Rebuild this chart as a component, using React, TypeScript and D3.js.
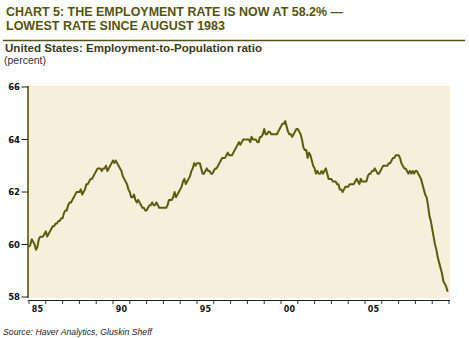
import React from "react";
import * as d3 from "d3";

// Monthly employment-to-population ratio, Jan 1985 .. Dec 2009 (one row per year)
const startYear = 1985;
const values: number[][] = [
  [59.9, 60.0, 60.2, 60.1, 60.0, 59.8, 59.9, 60.2, 60.3, 60.3, 60.3, 60.4],
  [60.5, 60.3, 60.4, 60.5, 60.6, 60.7, 60.7, 60.8, 60.8, 60.9, 60.9, 61.0],
  [61.0, 61.2, 61.3, 61.3, 61.5, 61.6, 61.6, 61.7, 61.8, 61.9, 62.0, 62.0],
  [62.0, 62.1, 61.9, 62.0, 62.1, 62.3, 62.3, 62.4, 62.5, 62.5, 62.6, 62.7],
  [62.8, 62.9, 62.9, 62.9, 62.8, 62.9, 62.9, 63.0, 62.8, 62.9, 63.0, 63.1],
  [63.2, 63.1, 63.2, 63.1, 63.0, 62.9, 62.8, 62.6, 62.5, 62.4, 62.3, 62.1],
  [62.0, 61.8, 61.8, 61.9, 61.7, 61.6, 61.7, 61.6, 61.5, 61.4, 61.4, 61.3],
  [61.3, 61.4, 61.5, 61.5, 61.6, 61.5, 61.5, 61.6, 61.5, 61.4, 61.4, 61.4],
  [61.4, 61.4, 61.4, 61.5, 61.7, 61.7, 61.7, 61.8, 62.0, 61.8, 61.9, 62.0],
  [62.1, 62.2, 62.4, 62.5, 62.3, 62.4, 62.5, 62.6, 62.8, 62.9, 63.1, 63.0],
  [63.1, 63.1, 63.1, 62.9, 62.7, 62.7, 62.8, 62.9, 62.8, 62.8, 62.7, 62.7],
  [62.8, 62.9, 62.9, 63.0, 63.1, 63.2, 63.3, 63.3, 63.3, 63.4, 63.5, 63.4],
  [63.4, 63.4, 63.5, 63.6, 63.7, 63.8, 63.9, 63.8, 63.9, 64.0, 64.0, 64.0],
  [64.0, 64.0, 63.9, 64.1, 64.0, 64.0, 64.0, 63.9, 63.9, 64.1, 64.1, 64.2],
  [64.4, 64.2, 64.2, 64.3, 64.3, 64.2, 64.2, 64.2, 64.2, 64.2, 64.3, 64.4],
  [64.5, 64.6, 64.6, 64.7, 64.5, 64.3, 64.2, 64.2, 64.1, 64.2, 64.3, 64.4],
  [64.4, 64.3, 64.2, 64.0, 63.7, 63.6, 63.6, 63.3, 63.5, 63.4, 63.2, 63.0],
  [62.9, 62.7, 62.8, 62.7, 62.7, 62.8, 62.7, 62.8, 62.9, 62.7, 62.5, 62.5],
  [62.5, 62.4, 62.4, 62.4, 62.3, 62.3, 62.1, 62.1, 62.0, 62.1, 62.2, 62.2],
  [62.2, 62.3, 62.3, 62.3, 62.3, 62.4, 62.5, 62.4, 62.3, 62.5, 62.4, 62.4],
  [62.4, 62.4, 62.6, 62.7, 62.7, 62.8, 62.8, 62.9, 62.8, 62.7, 62.7, 62.8],
  [62.9, 63.0, 63.0, 63.0, 63.0, 63.1, 63.1, 63.2, 63.3, 63.3, 63.4, 63.4],
  [63.4, 63.3, 63.1, 63.0, 62.9, 62.9, 62.8, 62.7, 62.8, 62.7, 62.8, 62.7],
  [62.8, 62.8, 62.7, 62.6, 62.5, 62.3, 62.1, 61.9, 61.8, 61.5, 61.1, 60.9],
  [60.6, 60.3, 60.0, 59.8, 59.5, 59.3, 59.1, 58.9, 58.6, 58.5, 58.4, 58.2],
];
const yTicks = [58, 60, 62, 64, 66];
const xLabelYears = [1985, 1990, 1995, 2000, 2005];
const xLabels = ["85", "90", "95", "00", "05"];

const titleLines = [
  "CHART 5: THE EMPLOYMENT RATE IS NOW AT 58.2% \u2014",
  "LOWEST RATE SINCE AUGUST 1983",
];
const subtitle = "United States: Employment-to-Population ratio";
const unit = "(percent)";
const source = "Source: Haver Analytics, Gluskin Sheff";

const OLIVE = "#55540f";
const LINE = "#5e5b0c";
const BG = "#f5efdc";

export default function App() {
  const W = 469, H = 338;
  const left = 28, right = 450, top = 86, bottom = 298;
  const data = values.flatMap((row, yi) =>
    row.map((v, mi) => ({ t: startYear + yi + mi / 12, v }))
  );
  const x = d3.scaleLinear().domain([1985, 2010]).range([left + 1, right - 1]);
  const y = d3.scaleLinear().domain([58, 66]).range([297, 87]);
  const line = d3.line<{ t: number; v: number }>().x(d => x(d.t)).y(d => y(d.v));
  const years = d3.range(1985, 2011);
  const font = "Liberation Sans, Arial, sans-serif";
  const tickFont = "DejaVu Sans, Verdana, sans-serif";

  return (
    <svg width={W} height={H} style={{ position: "absolute", left: 0, top: 0 }} fontFamily={font}>
      <rect x={0} y={0} width={W} height={H} fill="#fff" />
      {titleLines.map((t, i) => (
        <text key={i} x={6} y={16 + i * 14} fontSize={13} fontWeight="bold" fill={OLIVE}
          textLength={i === 0 ? 337 : 219} lengthAdjust="spacingAndGlyphs">{t}</text>
      ))}
      <line x1={3} x2={465} y1={40.5} y2={40.5} stroke={OLIVE} strokeWidth={1.5} />
      <text x={5} y={52} fontSize={10.5} fontWeight="bold" fill="#3b3a1c" textLength={257} lengthAdjust="spacingAndGlyphs">{subtitle}</text>
      <text x={4} y={64} fontSize={10.5} fill="#333">{unit}</text>

      <rect x={left} y={top} width={right - left} height={bottom - top} fill={BG} />
      <line x1={left} x2={left} y1={top} y2={bottom} stroke={OLIVE} strokeWidth={1.6} />
      {yTicks.map(t => (
        <g key={t}>
          <line x1={21.5} x2={left} y1={y(t)} y2={y(t)} stroke="#222" strokeWidth={1} />
          <text x={20} y={y(t) + 3.2} fontSize={8.5} fontWeight="bold" textAnchor="end" fill="#111" fontFamily={tickFont}>{t}</text>
        </g>
      ))}
      <line x1={left} x2={right} y1={300.5} y2={300.5} stroke="#222" strokeWidth={1} />
      {years.map(yr => (
        <line key={yr} x1={x(yr)} x2={x(yr)} y1={300} y2={304} stroke="#333" strokeWidth={1} />
      ))}
      {xLabelYears.map((yr, i) => (
        <text key={yr} x={x(yr + 0.5)} y={312} fontSize={8} fontWeight="bold" textAnchor="middle" fill="#111" fontFamily={tickFont}>{xLabels[i]}</text>
      ))}
      <path d={line(data) || ""} fill="none" stroke={LINE} strokeWidth={2} strokeLinejoin="round" />
      <text x={3} y={335} fontSize={8.5} fontStyle="italic" fill="#222" textLength={149} lengthAdjust="spacingAndGlyphs">{source}</text>
    </svg>
  );
}
